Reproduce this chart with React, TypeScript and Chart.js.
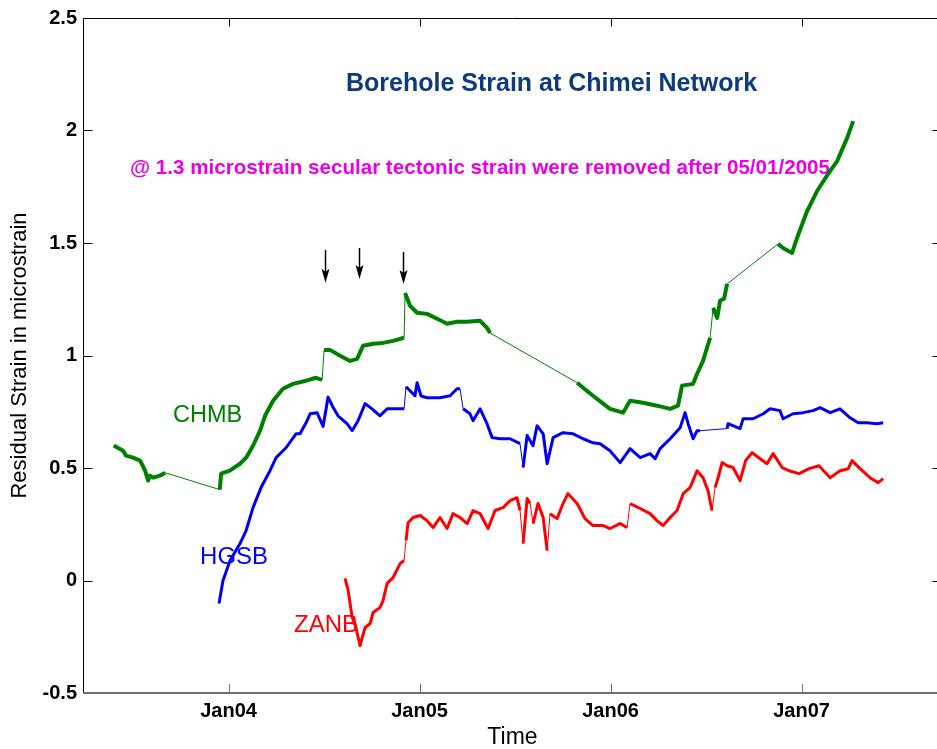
import React, { useEffect, useRef } from 'react';
import { Chart, registerables } from 'chart.js';

Chart.register(...registerables);

// ---------- data (time in decimal years, strain in microstrain) ----------
const chmbTime = [2003.399, 2003.448, 2003.463, 2003.5, 2003.537, 2003.563, 2003.579, 2003.589, 2003.605, 2003.641, 2003.668, 2003.954, 2003.961, 2004.006, 2004.06, 2004.092, 2004.128, 2004.165, 2004.191, 2004.233, 2004.285, 2004.338, 2004.406, 2004.458, 2004.49, 2004.5, 2004.531, 2004.584, 2004.636, 2004.673, 2004.704, 2004.757, 2004.809, 2004.861, 2004.919, 2004.924, 2004.95, 2004.987, 2005.039, 2005.092, 2005.144, 2005.196, 2005.249, 2005.317, 2005.353, 2005.369, 2005.825, 2005.856, 2005.908, 2005.961, 2005.997, 2006.065, 2006.102, 2006.17, 2006.243, 2006.312, 2006.353, 2006.374, 2006.432, 2006.453, 2006.484, 2006.521, 2006.537, 2006.558, 2006.573, 2006.594, 2006.61, 2006.877, 2006.903, 2006.95, 2006.976, 2007.029, 2007.081, 2007.139, 2007.186, 2007.238, 2007.27];
const chmbStrain = [0.6, 0.577, 0.555, 0.546, 0.533, 0.488, 0.444, 0.466, 0.457, 0.466, 0.479, 0.404, 0.475, 0.488, 0.519, 0.546, 0.599, 0.666, 0.732, 0.799, 0.852, 0.874, 0.888, 0.901, 0.892, 1.025, 1.025, 0.999, 0.976, 0.985, 1.043, 1.052, 1.056, 1.065, 1.079, 1.278, 1.221, 1.19, 1.185, 1.163, 1.141, 1.15, 1.15, 1.154, 1.123, 1.1, 0.879, 0.857, 0.821, 0.786, 0.763, 0.746, 0.799, 0.79, 0.777, 0.763, 0.777, 0.866, 0.874, 0.919, 0.976, 1.079, 1.212, 1.167, 1.243, 1.252, 1.318, 1.496, 1.478, 1.456, 1.522, 1.642, 1.731, 1.807, 1.864, 1.966, 2.042];

const hgsbTime = [2003.95, 2003.971, 2004.008, 2004.06, 2004.092, 2004.128, 2004.17, 2004.217, 2004.249, 2004.301, 2004.353, 2004.374, 2004.406, 2004.427, 2004.463, 2004.495, 2004.521, 2004.547, 2004.573, 2004.62, 2004.647, 2004.678, 2004.715, 2004.751, 2004.793, 2004.83, 2004.882, 2004.919, 2004.929, 2004.976, 2004.987, 2005.008, 2005.039, 2005.107, 2005.16, 2005.196, 2005.212, 2005.228, 2005.264, 2005.28, 2005.317, 2005.353, 2005.38, 2005.421, 2005.474, 2005.526, 2005.542, 2005.563, 2005.594, 2005.615, 2005.647, 2005.668, 2005.699, 2005.751, 2005.804, 2005.856, 2005.908, 2005.945, 2005.997, 2006.05, 2006.102, 2006.155, 2006.207, 2006.233, 2006.259, 2006.312, 2006.364, 2006.39, 2006.406, 2006.432, 2006.453, 2006.469, 2006.61, 2006.615, 2006.678, 2006.694, 2006.746, 2006.799, 2006.835, 2006.887, 2006.903, 2006.955, 2007.008, 2007.06, 2007.097, 2007.149, 2007.201, 2007.254, 2007.296, 2007.343, 2007.395, 2007.427];
const hgsbStrain = [-0.102, 0.0, 0.089, 0.164, 0.222, 0.324, 0.413, 0.488, 0.546, 0.59, 0.652, 0.652, 0.701, 0.741, 0.746, 0.685, 0.815, 0.77, 0.732, 0.697, 0.666, 0.71, 0.786, 0.763, 0.732, 0.763, 0.763, 0.763, 0.861, 0.821, 0.879, 0.82, 0.812, 0.812, 0.821, 0.852, 0.852, 0.763, 0.741, 0.71, 0.763, 0.697, 0.635, 0.63, 0.63, 0.608, 0.502, 0.644, 0.599, 0.688, 0.652, 0.519, 0.635, 0.657, 0.652, 0.63, 0.612, 0.608, 0.577, 0.524, 0.586, 0.546, 0.564, 0.541, 0.586, 0.63, 0.679, 0.746, 0.697, 0.63, 0.666, 0.666, 0.675, 0.697, 0.675, 0.719, 0.719, 0.741, 0.763, 0.755, 0.719, 0.741, 0.746, 0.755, 0.768, 0.746, 0.763, 0.723, 0.701, 0.701, 0.697, 0.701];

const zanbTime = [2004.61, 2004.626, 2004.647, 2004.662, 2004.688, 2004.715, 2004.741, 2004.757, 2004.793, 2004.809, 2004.83, 2004.861, 2004.898, 2004.919, 2004.929, 2004.94, 2004.966, 2005.003, 2005.039, 2005.071, 2005.107, 2005.144, 2005.175, 2005.212, 2005.249, 2005.28, 2005.317, 2005.359, 2005.395, 2005.437, 2005.474, 2005.51, 2005.526, 2005.542, 2005.563, 2005.579, 2005.594, 2005.62, 2005.647, 2005.668, 2005.683, 2005.72, 2005.751, 2005.777, 2005.825, 2005.866, 2005.908, 2005.961, 2005.997, 2006.05, 2006.086, 2006.102, 2006.155, 2006.207, 2006.243, 2006.275, 2006.312, 2006.348, 2006.38, 2006.416, 2006.453, 2006.484, 2006.51, 2006.531, 2006.547, 2006.563, 2006.584, 2006.61, 2006.641, 2006.678, 2006.707, 2006.741, 2006.783, 2006.819, 2006.851, 2006.898, 2006.934, 2006.987, 2007.039, 2007.091, 2007.149, 2007.201, 2007.244, 2007.264, 2007.306, 2007.358, 2007.401, 2007.427];
const zanbStrain = [0.009, -0.044, -0.164, -0.191, -0.289, -0.209, -0.191, -0.142, -0.12, -0.089, -0.013, 0.013, 0.075, 0.089, 0.178, 0.257, 0.28, 0.289, 0.266, 0.235, 0.28, 0.231, 0.297, 0.28, 0.253, 0.311, 0.297, 0.231, 0.311, 0.324, 0.355, 0.368, 0.311, 0.164, 0.364, 0.342, 0.253, 0.342, 0.28, 0.133, 0.297, 0.275, 0.342, 0.386, 0.342, 0.275, 0.244, 0.244, 0.231, 0.253, 0.235, 0.342, 0.32, 0.297, 0.266, 0.244, 0.28, 0.311, 0.386, 0.413, 0.488, 0.457, 0.399, 0.311, 0.413, 0.457, 0.524, 0.51, 0.502, 0.444, 0.533, 0.568, 0.541, 0.519, 0.564, 0.502, 0.488, 0.475, 0.497, 0.51, 0.457, 0.488, 0.497, 0.533, 0.497, 0.457, 0.435, 0.453];

const xTickValues = [2004, 2005, 2006, 2007];
const xTickLabels = ['Jan04', 'Jan05', 'Jan06', 'Jan07'];
const yTickValues = [-0.5, 0, 0.5, 1, 1.5, 2, 2.5];
const yTickLabels = ['-0.5', '0', '0.5', '1', '1.5', '2', '2.5'];
const xLimits = [2003.238, 2007.735];
const yLimits = [-0.5, 2.5];

// event arrows (time, top of shaft, tip) in data units
const arrowTimes = [2004.505, 2004.685, 2004.912];
const arrowTops = [1.469, 1.478, 1.46];
const arrowTips = [1.323, 1.34, 1.318];

const FONT = '"Liberation Sans", Arial, Helvetica, sans-serif';

// text annotations placed in data units
const notes = [
  { text: 'Borehole Strain at Chimei Network', x: 2005.691, y: 2.206, color: '#0d3b7c', font: `bold 25px ${FONT}`, align: 'center' },
  { text: '@ 1.3 microstrain secular tectonic strain were removed after 05/01/2005', x: 2003.484, y: 1.833, color: '#e800e8', font: `bold 20.6px ${FONT}`, align: 'left' },
  { text: 'CHMB', x: 2003.709, y: 0.732, color: '#008000', font: `23.5px ${FONT}`, align: 'left' },
  { text: 'HGSB', x: 2003.851, y: 0.102, color: '#0000ff', font: `24px ${FONT}`, align: 'left' },
  { text: 'ZANB', x: 2004.343, y: -0.2, color: '#ff0000', font: `24px ${FONT}`, align: 'left' },
];

const toPoints = (t: number[], v: number[]) => t.map((x, i) => ({ x, y: v[i] }));

// thin line across recording gaps and abrupt offsets, thick for the dense record
const segWidth = (w: number) => (c: any) => {
  const dx = Math.abs(c.p1.parsed.x - c.p0.parsed.x);
  const dy = Math.abs(c.p1.parsed.y - c.p0.parsed.y);
  return dx > 0.09 || (dx < 0.02 && dy > 0.08) ? 1 : w;
};

const decorPlugin = {
  id: 'decor',
  beforeDatasetsDraw(chart: any) {
    const { ctx, scales: { x, y } } = chart;
    ctx.save();
    ctx.textBaseline = 'middle';
    notes.forEach((n) => {
      ctx.font = n.font;
      ctx.fillStyle = n.color;
      ctx.textAlign = n.align;
      ctx.fillText(n.text, x.getPixelForValue(n.x), y.getPixelForValue(n.y));
    });
    ctx.restore();
  },
  afterDraw(chart: any) {
    const { ctx, chartArea: a, scales: { x, y } } = chart;
    ctx.save();
    const L = Math.round(a.left) + 0.5;
    const T = Math.round(a.top) + 0.5;
    const R = Math.round(a.right) - 0.5;
    const B = Math.round(a.bottom);
    ctx.strokeStyle = '#000';
    ctx.lineWidth = 1;
    ctx.beginPath();
    ctx.moveTo(L, B);
    ctx.lineTo(L, T);
    ctx.lineTo(R, T);
    ctx.lineTo(R, B);
    y.ticks.forEach((t: any) => {
      const py = Math.round(y.getPixelForValue(t.value)) + 0.5;
      ctx.moveTo(L, py);
      ctx.lineTo(L + 9, py);
      ctx.moveTo(R, py);
      ctx.lineTo(R - 9, py);
    });
    x.ticks.forEach((t: any) => {
      const px = Math.round(x.getPixelForValue(t.value)) + 0.5;
      ctx.moveTo(px, T);
      ctx.lineTo(px, T + 8);
    });
    ctx.stroke();
    // bottom axis (greyish)
    ctx.strokeStyle = '#707070';
    ctx.lineWidth = 2;
    ctx.beginPath();
    ctx.moveTo(L - 0.5, B);
    ctx.lineTo(R, B);
    ctx.stroke();
    ctx.lineWidth = 1;
    ctx.beginPath();
    x.ticks.forEach((t: any) => {
      const px = Math.round(x.getPixelForValue(t.value)) + 0.5;
      ctx.moveTo(px, B);
      ctx.lineTo(px, B - 9);
    });
    ctx.stroke();
    // arrows
    ctx.strokeStyle = '#000';
    ctx.fillStyle = '#000';
    arrowTimes.forEach((t, i) => {
      const px = Math.round(x.getPixelForValue(t)) + 0.5;
      const top = y.getPixelForValue(arrowTops[i]);
      const tip = y.getPixelForValue(arrowTips[i]);
      ctx.lineWidth = 1.5;
      ctx.beginPath();
      ctx.moveTo(px, top);
      ctx.lineTo(px, tip - 10);
      ctx.stroke();
      ctx.beginPath();
      ctx.moveTo(px - 4, tip - 14);
      ctx.lineTo(px, tip - 11);
      ctx.lineTo(px + 4, tip - 14);
      ctx.lineTo(px, tip);
      ctx.closePath();
      ctx.fill();
    });
    ctx.restore();
  },
};

export default function App() {
  const ref = useRef<HTMLCanvasElement>(null);
  useEffect(() => {
    if (!ref.current) return;
    Chart.defaults.font.family = FONT;
    const chart = new Chart(ref.current, {
      type: 'line',
      data: {
        datasets: [
          {
            label: 'CHMB',
            data: toPoints(chmbTime, chmbStrain),
            borderColor: '#008000',
            borderWidth: 4,
            pointRadius: 0,
            tension: 0,
            borderJoinStyle: 'round',
            segment: { borderWidth: segWidth(4) },
          },
          {
            label: 'HGSB',
            data: toPoints(hgsbTime, hgsbStrain),
            borderColor: '#0000f0',
            borderWidth: 3,
            pointRadius: 0,
            tension: 0,
            borderJoinStyle: 'round',
            segment: { borderWidth: segWidth(3) },
          },
          {
            label: 'ZANB',
            data: toPoints(zanbTime, zanbStrain),
            borderColor: '#ff0000',
            borderWidth: 3,
            pointRadius: 0,
            tension: 0,
            borderJoinStyle: 'round',
            segment: { borderWidth: segWidth(3) },
          },
        ],
      },
      options: {
        animation: false,
        responsive: false,
        layout: { padding: { top: 17, right: 4, left: 0, bottom: 0 } },
        plugins: { legend: { display: false }, tooltip: { enabled: false }, title: { display: false } },
        scales: {
          x: {
            type: 'linear',
            min: xLimits[0],
            max: xLimits[1],
            afterBuildTicks: (s: any) => {
              s.ticks = xTickValues.map((v) => ({ value: v }));
            },
            afterFit: (s: any) => {
              s.height = 56;
            },
            grid: { display: false, drawTicks: false },
            border: { display: false },
            ticks: {
              padding: 6,
              color: '#000',
              font: { size: 20, weight: 'bold' },
              maxRotation: 0,
              callback: (v: any) => xTickLabels[xTickValues.indexOf(Number(v))] ?? '',
            },
            title: { display: true, text: 'Time', color: '#000', font: { size: 23 }, padding: { top: 0, bottom: -2 } },
          },
          y: {
            type: 'linear',
            min: yLimits[0],
            max: yLimits[1],
            afterBuildTicks: (s: any) => {
              s.ticks = yTickValues.map((v) => ({ value: v }));
            },
            afterFit: (s: any) => {
              s.width = 83;
            },
            grid: { display: false, drawTicks: false },
            border: { display: false },
            ticks: {
              padding: 6,
              color: '#000',
              font: { size: 20, weight: 'bold' },
              callback: (v: any) => yTickLabels[yTickValues.indexOf(Number(v))] ?? '',
            },
            title: { display: true, text: 'Residual Strain in microstrain', color: '#000', font: { size: 22 }, padding: { top: 7, bottom: 0 } },
          },
        },
      },
      plugins: [decorPlugin],
    } as any);
    return () => chart.destroy();
  }, []);
  return (
    <div style={{ position: 'absolute', left: 0, top: 0, width: 937, height: 749, overflow: 'hidden', background: '#fff' }}>
      <canvas ref={ref} width={946} height={749} style={{ display: 'block', width: 946, height: 749 }} />
    </div>
  );
}
